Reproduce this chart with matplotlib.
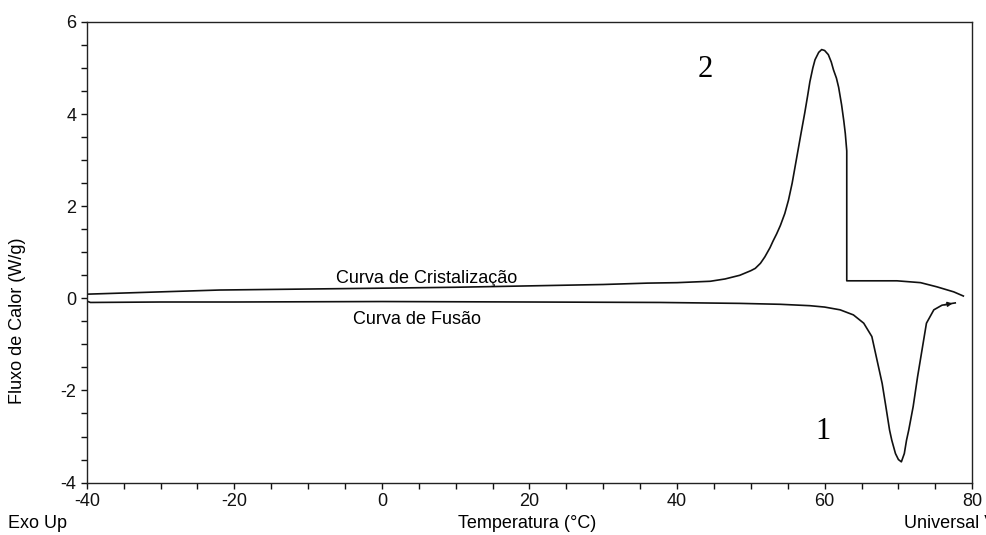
import numpy as np
import matplotlib.pyplot as plt
from matplotlib.ticker import MultipleLocator

plt.rcParams['font.family'] = ['Liberation Sans', 'DejaVu Sans']
plt.rcParams['axes.unicode_minus'] = False

# curva de cristalizacao (superior), temperatura em C e fluxo em W/g
cris_t = [-40, -30, -22, -11, 0, 10, 20, 30, 36, 40, 44.5, 46.5, 48.5, 50.0, 50.6,
          51.3, 51.9, 52.6, 53.0, 53.5, 54.0, 54.6, 55.1, 55.6, 56.0, 56.4, 56.8,
          57.3, 57.7, 58.0, 58.4, 58.7, 59.2, 59.6, 60.0, 60.5, 60.9, 61.2, 61.6,
          61.9, 62.3, 62.6, 62.8, 63.0, 63.0, 66.0, 69.8, 73.0, 75.2, 77.5, 78.8]
cris_w = [0.09, 0.14, 0.18, 0.20, 0.22, 0.24, 0.27, 0.30, 0.33, 0.34, 0.37, 0.42, 0.50,
          0.60, 0.65, 0.76, 0.90, 1.10, 1.24, 1.40, 1.58, 1.84, 2.13, 2.50, 2.86, 3.22,
          3.58, 4.02, 4.40, 4.70, 5.00, 5.18, 5.34, 5.40, 5.38, 5.29, 5.13, 4.96, 4.78,
          4.58, 4.20, 3.85, 3.58, 3.20, 0.38, 0.38, 0.38, 0.34, 0.25, 0.14, 0.05]

# curva de fusao (inferior)
fus_t = [-40, -39.5, -30, -20, 0, 20, 37.7, 48.5, 54, 58, 60, 62.1, 63.9, 65.3, 66.4,
         67.1, 67.8, 68.3, 68.8, 69.1, 69.6, 70.0, 70.4, 70.8, 71.1, 71.4, 72.0, 72.6,
         73.2, 73.8, 74.8, 75.9, 77.3, 77.7]
fus_w = [-0.06, -0.09, -0.08, -0.08, -0.07, -0.08, -0.09, -0.11, -0.13, -0.16, -0.19,
         -0.25, -0.36, -0.54, -0.83, -1.34, -1.85, -2.35, -2.86, -3.08, -3.37, -3.50,
         -3.55, -3.37, -3.08, -2.86, -2.35, -1.70, -1.12, -0.54, -0.25, -0.15, -0.11,
         -0.10]

fig = plt.figure(figsize=(9.86, 5.35), dpi=100)
ax = fig.add_axes([0.088, 0.098, 0.898, 0.861])

ax.plot(cris_t, cris_w, color='#111111', lw=1.2)
ax.plot(fus_t, fus_w, color='#111111', lw=1.2)
# pequena seta no fim da curva de fusao
ax.annotate('', xy=(fus_t[-1], fus_w[-1]), xytext=(fus_t[-3], fus_w[-3]),
            arrowprops=dict(arrowstyle='-|>', color='#111111', lw=1.0,
                            mutation_scale=7))

ax.set_xlim(-40, 80)
ax.set_ylim(-4, 6)
ax.xaxis.set_major_locator(MultipleLocator(20))
ax.xaxis.set_minor_locator(MultipleLocator(5))
ax.yaxis.set_major_locator(MultipleLocator(2))
ax.yaxis.set_minor_locator(MultipleLocator(0.5))
ax.tick_params(which='both', direction='out', length=4, width=1, labelsize=13,
               colors='#111111')
for s in ax.spines.values():
    s.set_linewidth(1.0)
    s.set_color('#222222')

ax.text(-6.2, 0.42, 'Curva de Cristalização', fontsize=13, va='center', ha='left')
ax.text(-3.9, -0.45, 'Curva de Fusão', fontsize=13, va='center', ha='left')
ax.text(43.8, 4.96, '2', fontsize=22, family='Liberation Serif',
        ha='center', va='center')
ax.text(59.8, -2.9, '1', fontsize=22, family='Liberation Serif',
        ha='center', va='center')

fig.text(0.018, 0.40, 'Fluxo de Calor (W/g)', rotation=90, fontsize=13,
         ha='center', va='center')
fig.text(0.008, 0.022, 'Exo Up', fontsize=13, ha='left', va='center')
fig.text(0.535, 0.022, 'Temperatura (°C)', fontsize=13, ha='center', va='center')
fig.text(0.917, 0.022, 'Universal V4.5A TA Instruments', fontsize=13,
         ha='left', va='center')

fig.savefig('out.png', dpi=100)
